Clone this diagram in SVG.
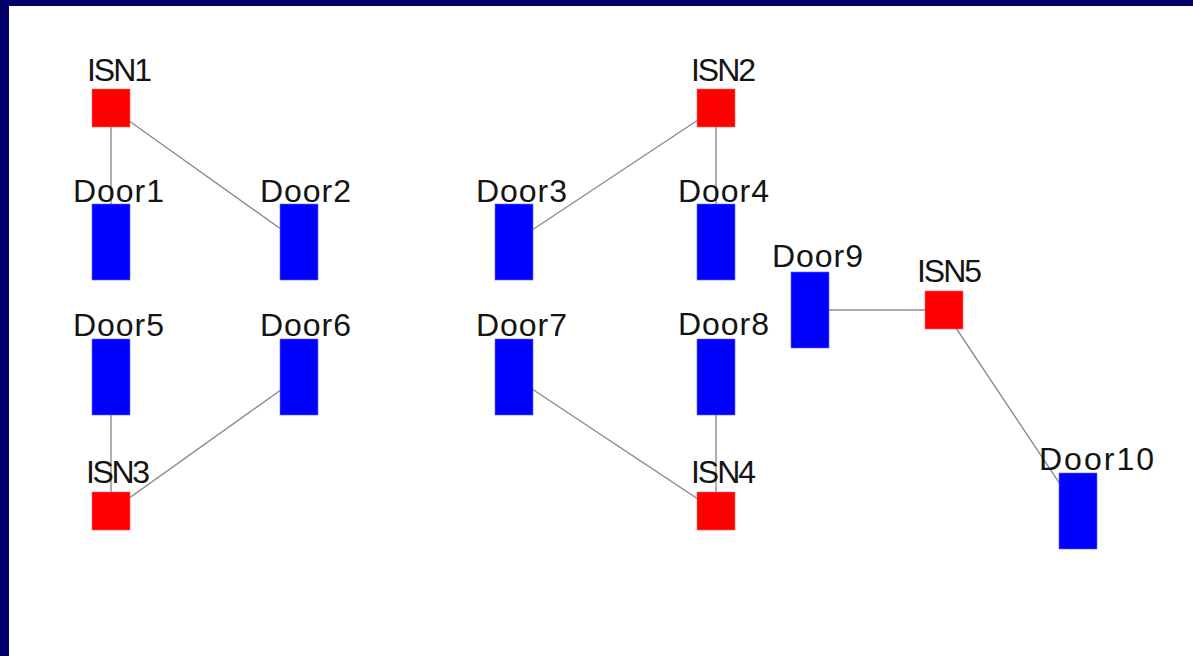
<svg xmlns="http://www.w3.org/2000/svg" width="1193" height="656" viewBox="0 0 1193 656">
<style>
.isn{fill:#ff0000;stroke:#ff6666;stroke-width:0.6}
.door{fill:#0000ff;stroke:#6666ff;stroke-width:0.6}
.lbl{font-family:"Liberation Sans",Arial,sans-serif;font-size:32px;fill:#141414}
.edge{stroke:#8c8c8c;stroke-width:1.4;fill:none}
</style>
<rect x="0" y="0" width="1193" height="656" fill="#ffffff"/>
<rect x="0" y="0" width="1193" height="6" fill="#000068"/>
<rect x="0" y="0" width="9" height="656" fill="#000068"/>
<g id="connectors">
<line class="edge" x1="111" y1="108" x2="111" y2="242"/>
<line class="edge" x1="111" y1="108" x2="299" y2="242"/>
<line class="edge" x1="716" y1="108" x2="514" y2="242"/>
<line class="edge" x1="716" y1="108" x2="716" y2="242"/>
<line class="edge" x1="111" y1="511" x2="111" y2="377"/>
<line class="edge" x1="111" y1="511" x2="299" y2="377"/>
<line class="edge" x1="716" y1="511" x2="514" y2="377"/>
<line class="edge" x1="716" y1="511" x2="716" y2="377"/>
<line class="edge" x1="944" y1="310" x2="810" y2="310"/>
<line class="edge" x1="944" y1="310" x2="1078" y2="511"/>
</g>
<g id="ISN1"><rect class="isn" x="92" y="89" width="38" height="38"/><text class="lbl" x="87" y="81" textLength="65">ISN1</text></g>
<g id="ISN2"><rect class="isn" x="697" y="89" width="38" height="38"/><text class="lbl" x="691" y="81" textLength="65">ISN2</text></g>
<g id="ISN3"><rect class="isn" x="92" y="492" width="38" height="38"/><text class="lbl" x="86" y="483" textLength="64">ISN3</text></g>
<g id="ISN4"><rect class="isn" x="697" y="492" width="38" height="38"/><text class="lbl" x="691" y="483" textLength="65">ISN4</text></g>
<g id="ISN5"><rect class="isn" x="925" y="291" width="38" height="38"/><text class="lbl" x="917" y="282" textLength="65">ISN5</text></g>
<g id="Door1"><rect class="door" x="92" y="204" width="38" height="76"/><text class="lbl" x="73" y="202" textLength="91">Door1</text></g>
<g id="Door2"><rect class="door" x="280" y="204" width="38" height="76"/><text class="lbl" x="260" y="202" textLength="91">Door2</text></g>
<g id="Door3"><rect class="door" x="495" y="204" width="38" height="76"/><text class="lbl" x="476" y="202" textLength="91">Door3</text></g>
<g id="Door4"><rect class="door" x="697" y="204" width="38" height="76"/><text class="lbl" x="678" y="202" textLength="91">Door4</text></g>
<g id="Door5"><rect class="door" x="92" y="339" width="38" height="76"/><text class="lbl" x="73" y="336" textLength="91">Door5</text></g>
<g id="Door6"><rect class="door" x="280" y="339" width="38" height="76"/><text class="lbl" x="260" y="336" textLength="91">Door6</text></g>
<g id="Door7"><rect class="door" x="495" y="339" width="38" height="76"/><text class="lbl" x="476" y="336" textLength="91">Door7</text></g>
<g id="Door8"><rect class="door" x="697" y="339" width="38" height="76"/><text class="lbl" x="678" y="335" textLength="91">Door8</text></g>
<g id="Door9"><rect class="door" x="791" y="272" width="38" height="76"/><text class="lbl" x="772" y="267" textLength="91">Door9</text></g>
<g id="Door10"><rect class="door" x="1059" y="473" width="38" height="76"/><text class="lbl" x="1039" y="470" textLength="115">Door10</text></g>
</svg>
